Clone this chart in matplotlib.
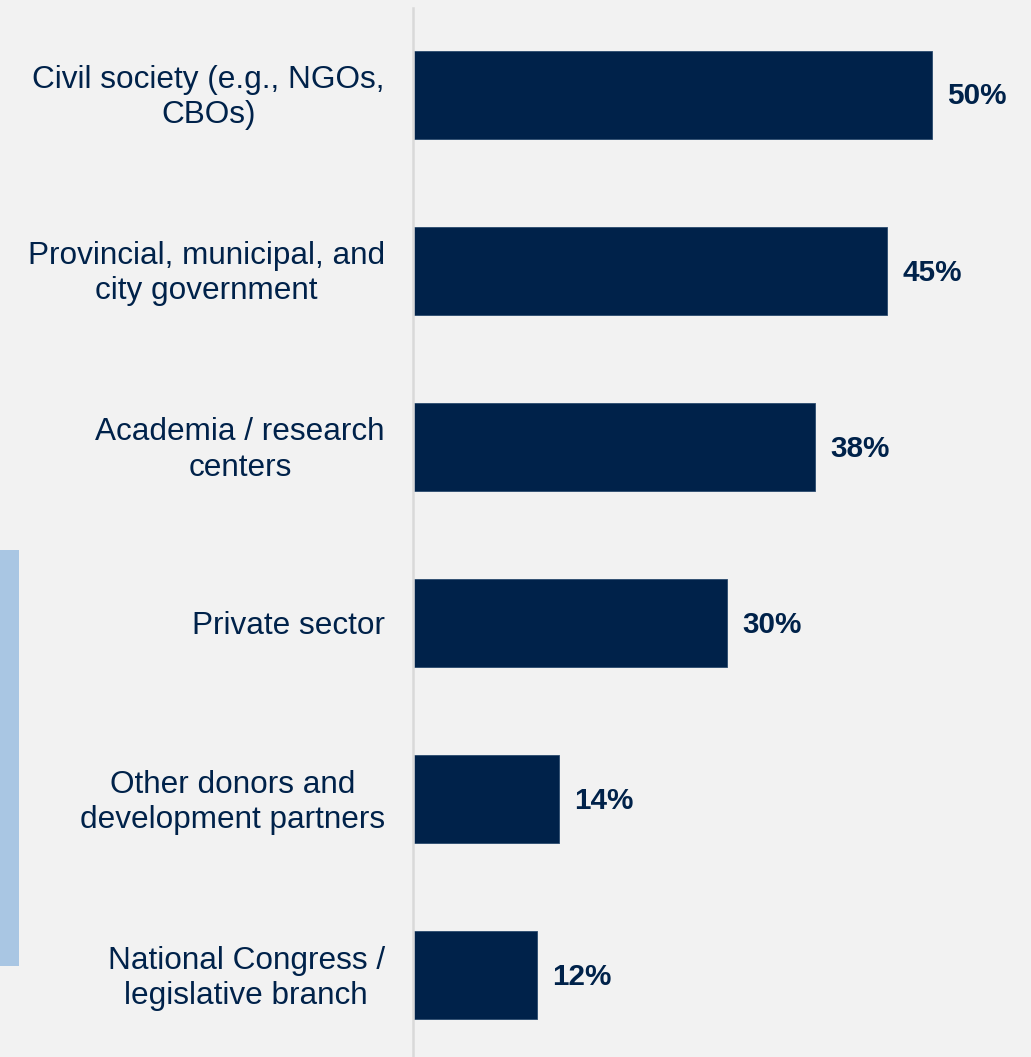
import matplotlib
matplotlib.use("Agg")
import matplotlib.pyplot as plt
from matplotlib.patches import Rectangle

categories = [
    "Civil society (e.g., NGOs,\nCBOs)",
    "Provincial, municipal, and\ncity government",
    "Academia / research\ncenters",
    "Private sector",
    "Other donors and\ndevelopment partners",
    "National Congress /\nlegislative branch",
]
values = [50.0, 45.7, 38.7, 30.2, 14.0, 11.9]
labels = ["50%", "45%", "38%", "30%", "14%", "12%"]

NAVY = "#00224a"
BG = "#f2f2f2"
W, H = 1031, 1057

plt.rcParams['font.family'] = ['Liberation Sans', 'DejaVu Sans']
fig = plt.figure(figsize=(W / 100, H / 100), dpi=100, facecolor=BG)

# light blue side bar
fig.patches.append(Rectangle((0, 1 - 966 / H), 19 / W, (966 - 550) / H,
                             transform=fig.transFigure, facecolor="#a9c6e3",
                             edgecolor="none", zorder=0))

ax = fig.add_axes([414 / W, 0, 617 / W, 1 - 8 / H])
ax.set_facecolor(BG)
y = list(range(len(categories)))
ax.barh(y, values, height=0.5, color=NAVY, edgecolor="#2a4a6e", linewidth=0.6, zorder=2)
ax.set_xlim(0, 617 / 10.36)
ax.set_ylim(5 + (1057 - 975.5) / 176, -(95 - 8) / 176)

for yi, v, lab in zip(y, values, labels):
    ax.annotate(lab, (v, yi), xytext=(11, -1), textcoords="offset points",
                ha="left", va="center", fontsize=21.3, fontweight="bold", color=NAVY)

# category labels (right aligned block, centred lines)
ax.set_yticks(y)
ax.set_yticklabels([])
ax.tick_params(axis="y", length=0)
for yi, cat in zip(y, categories):
    ax.annotate(cat, (0, yi), xycoords=("axes fraction", "data"),
                xytext=(-21, -2), textcoords="offset points",
                ha="right", va="center", multialignment="center",
                linespacing=1.22, fontsize=22.7, color=NAVY, annotation_clip=False)

ax.set_xticks([])
for s in ["top", "right", "bottom"]:
    ax.spines[s].set_visible(False)
ax.spines["left"].set_color("#d9d9d9")
ax.spines["left"].set_linewidth(1.8)
ax.spines["left"].set_position(("outward", 1))

fig.savefig("out.png", dpi=100, facecolor=BG)
